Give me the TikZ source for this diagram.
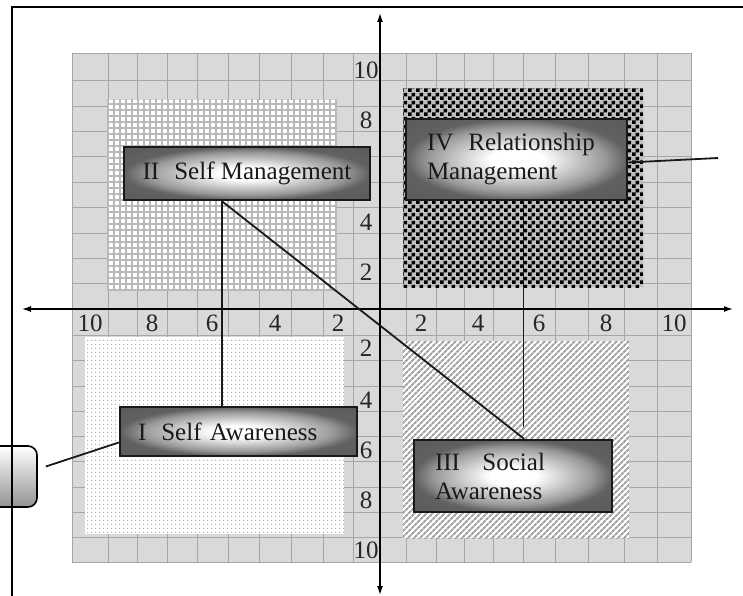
\documentclass[tikz,border=0pt]{standalone}
\usepackage{fontspec}
\setmainfont{Liberation Serif}
\usetikzlibrary{arrows.meta,patterns,patterns.meta}

\tikzdeclarepattern{
  name=checks,
  type=uncolored,
  bottom left={(0pt,0pt)},
  top right={(8pt,8pt)},
  tile size={(8pt,8pt)},
  code={
    \pgfpathrectangle{\pgfpointorigin}{\pgfqpoint{4pt}{4pt}}
    \pgfpathrectangle{\pgfqpoint{4pt}{4pt}}{\pgfqpoint{4pt}{4pt}}
    \pgfusepath{fill}
  }
}
\pgfdeclareradialshading{glow}{\pgfpoint{0bp}{0bp}}{color(0bp)=(white); color(6bp)=(white); color(20bp)=(black!40); color(25bp)=(black!62); color(50bp)=(black!68)}

\begin{document}
\begin{tikzpicture}[x=1pt,y=-1pt]
            \tikzset{num/.style = {font=\fontsize{25}{29}\selectfont, text=black!85, inner sep=0pt}}
            \tikzset{card/.style = {shape=rectangle, draw=black!90, line width=2.5pt, shading=glow, font=\fontsize{25}{29}\selectfont, text=black!90}}
            \tikzset{link/.style = {line width=1.8pt, draw=black!90}}
            \tikzset{axis/.style = {<->, >={Latex[length=9pt,width=6pt]}, line width=1.3pt}}
            \useasboundingbox (0,0) rectangle (743,596);

            \node[shape=rectangle, rounded corners=9pt, draw=black, line width=1.6pt, top color=white, bottom color=gray!85, minimum width=52pt, minimum height=61pt] (side) at (11,476.5) {};
            \draw[line width=1.8pt] (12,600) -- (12,7) -- (750,7);

            % grid
            \fill[gray!30] (72,53) rectangle (691,562);
            \foreach \gx in {72,108,137,167,197,228,259,291,323,353,380,406,436,464,493,523,555,588,624,657,691}
                \draw[gray!70, line width=0.9pt] (\gx,53) -- (\gx,562);
            \foreach \gy in {53,80,106,131,156,182,207,233,258,283,309,335,360,386,411,436,461,487,512,537,562}
                \draw[gray!70, line width=0.9pt] (72,\gy) -- (691,\gy);

            % quadrants
            \path[preaction={fill=white}, pattern={Hatch[angle=0,distance=6pt,line width=1.3pt]}, pattern color=gray!55] (107,100) rectangle (337,290);
            \path[preaction={fill=gray!50}, pattern=checks, pattern color=black] (403,89) rectangle (643,287);
            \path[preaction={fill=white}, pattern={Dots[radius=0.7pt,distance=4pt]}, pattern color=gray!70] (85,337) rectangle (344,534);
            \path[preaction={fill=white}, pattern={Lines[angle=45,distance=4pt,line width=2.2pt]}, pattern color=gray!70] (403,341) rectangle (629,538);

            % axis numbers
            \foreach \v/\px in {10/90,8/152,6/212,4/275,2/338}
                \node[num] (xl\v) at (\px,323) {\v};
            \foreach \v/\px in {2/421,4/478,6/539,8/606,10/674}
                \node[num] (xr\v) at (\px,323) {\v};
            \foreach \v/\py in {10/70,8/120,4/222,2/272}
                \node[num] (yt\v) at (366,\py) {\v};
            \foreach \v/\py in {2/348,4/400,6/450,8/500,10/550}
                \node[num] (yb\v) at (366,\py) {\v};

            \draw[axis] (22,309) -- (733,309);
            \draw[axis] (380,13) -- (380,595);

            \node[card, minimum width=246pt, minimum height=53pt] (II) at (247,173.5) {II\hspace{0.6em}Self Management};
            \node[card, minimum width=221pt, minimum height=81pt, text width=179pt, align=left, inner xsep=21pt] (IV) at (516.5,159.5) {IV\hspace{0.6em}Relationship\\Management};
            \node[card, minimum width=237pt, minimum height=49pt, text width=201pt, align=left, inner xsep=18pt] (I) at (238.5,431.5) {I\hspace{0.6em}Self Awareness};
            \node[card, minimum width=198pt, minimum height=72pt, text width=156pt, align=left, inner xsep=21pt] (III) at (513,476) {III\hspace{0.9em}Social\\Awareness};

            \coordinate (farR) at (718,158);

            \draw[link] ([xshift=-25pt]II.south) -- ([xshift=-25pt]II.south |- I.north);
            \draw[link] ([xshift=-25pt]II.south) -- ([xshift=11pt]III.north);
            \draw[link, shorten >=12pt] ([xshift=7pt]IV.south) -- ([xshift=7pt]IV.south |- III.north);
            \draw[link] ([yshift=-3pt]IV.east) -- (farR);
            \draw[link] ([yshift=-11pt]I.west) -- ([xshift=8pt,yshift=10pt]side.east);
\end{tikzpicture}
\end{document}
